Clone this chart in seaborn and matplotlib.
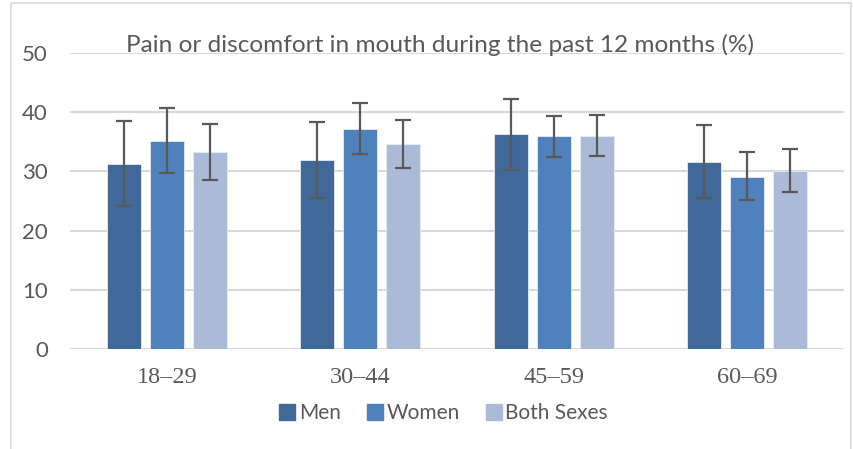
import matplotlib
matplotlib.use("Agg")
import matplotlib.pyplot as plt
import pandas as pd
import seaborn as sns
from matplotlib.lines import Line2D

# values (%)
age_groups = ["18\u201329", "30\u201344", "45\u201359", "60\u201369"]
sexes = ["Men", "Women", "Both Sexes"]

men = [31.3, 31.9, 36.3, 31.6]
men_lo = [24.2, 25.5, 30.2, 25.5]
men_hi = [38.5, 38.4, 42.3, 37.8]

women = [35.2, 37.2, 35.9, 29.1]
women_lo = [29.8, 32.9, 32.4, 25.1]
women_hi = [40.7, 41.6, 39.4, 33.2]

both = [33.3, 34.6, 36.0, 30.1]
both_lo = [28.6, 30.6, 32.6, 26.6]
both_hi = [38.0, 38.6, 39.6, 33.8]

colors = ["#406899", "#4F81BD", "#AABAD7"]

rows = []
for sex, vals, lo, hi in [("Men", men, men_lo, men_hi),
                          ("Women", women, women_lo, women_hi),
                          ("Both Sexes", both, both_lo, both_hi)]:
    for ag, v, l, h in zip(age_groups, vals, lo, hi):
        rows.append({"age": ag, "sex": sex, "pct": v, "lo": l, "hi": h})
df = pd.DataFrame(rows)

sns.set_theme(style="white")
plt.rcParams["font.family"] = ["Lato", "DejaVu Sans"]

fig = plt.figure(figsize=(8.54, 4.49), dpi=100)
ax = fig.add_axes([70 / 854, 1 - 349 / 449, 774 / 854, 296 / 449])

sns.barplot(data=df, x="age", y="pct", hue="sex", order=age_groups,
            hue_order=sexes, palette=colors, width=0.667, gap=0.21,
            errorbar=None, legend=False, ax=ax, saturation=1,
            edgecolor="#e6ecf5", linewidth=0.6)

# asymmetric error bars, one container per sex
for cont, sex in zip(ax.containers, sexes):
    sub = df[df["sex"] == sex].set_index("age").loc[age_groups]
    xs = [p.get_x() + p.get_width() / 2 for p in cont.patches]
    yerr = [sub["pct"] - sub["lo"], sub["hi"] - sub["pct"]]
    ax.errorbar(xs, sub["pct"], yerr=yerr, fmt="none", ecolor="#595959",
                elinewidth=1.6, capsize=5.5, capthick=1.6, zorder=5)

ax.set_ylim(0, 50)
ax.set_xlim(-0.5, 3.5)
ax.set_yticks([0, 10, 20, 30, 40, 50])
ax.yaxis.grid(True, color="#D9D9D9", linewidth=1.5)
ax.set_axisbelow(True)
for s in ax.spines.values():
    s.set_visible(False)
ax.set_xlabel("")
ax.set_ylabel("")
ax.tick_params(axis="y", length=0, pad=16, labelsize=16, labelcolor="#595959")
ax.tick_params(axis="x", length=0, pad=13, labelcolor="#595959")
for lab in ax.get_xticklabels():
    lab.set_fontfamily("Liberation Serif")
    lab.set_fontsize(17.5)

fig.text(0.515, 1 - 45 / 449, "Pain or discomfort in mouth during the past 12 months (%)",
         ha="center", va="center", fontsize=17.6, color="#595959")

handles = [Line2D([], [], marker="s", linestyle="", markersize=11,
                  markerfacecolor=c, markeredgecolor=c) for c in colors]
fig.legend(handles, sexes, loc="center", bbox_to_anchor=(443 / 854, 1 - 413 / 449),
           ncol=3, frameon=False, fontsize=15, labelcolor="#595959",
           handletextpad=0.1, columnspacing=1.2, handlelength=0.9)

# light outer frame of the chart area
for xy in [([11 / 854, 11 / 854], [0, 1 - 3 / 449]),
           ([11 / 854, 851 / 854], [1 - 3 / 449, 1 - 3 / 449]),
           ([851 / 854, 851 / 854], [0, 1 - 3 / 449])]:
    fig.add_artist(Line2D(xy[0], xy[1], color="#D9D9D9", linewidth=1.2))

fig.savefig("out.png", dpi=100)
